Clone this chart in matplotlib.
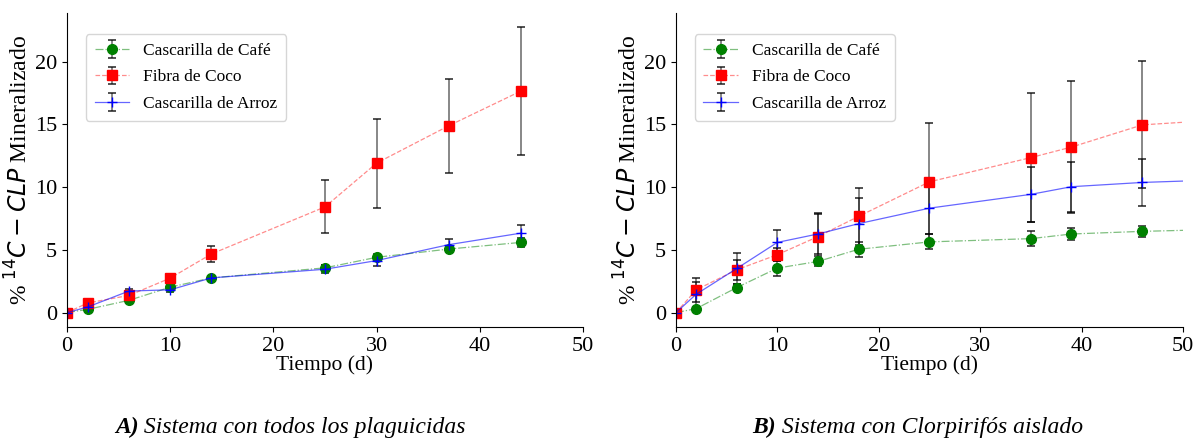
import matplotlib
matplotlib.use("Agg")
import matplotlib.pyplot as plt

# =========================
# DATA
# =========================
# Panel A: system with all pesticides
tiempo_a = [0, 2, 6, 10, 14, 25, 30, 37, 44]
cafe_a = [0, 0.26, 0.98, 2.03, 2.77, 3.57, 4.41, 5.07, 5.60]
cafe_a_err = [0, 0.1, 0.15, 0.2, 0.15, 0.25, 0.3, 0.2, 0.35]
coco_a = [0, 0.77, 1.37, 2.75, 4.68, 8.43, 11.92, 14.90, 17.67]
coco_a_err = [0, 0.1, 0.2, 0.2, 0.66, 2.12, 3.55, 3.75, 5.10]
arroz_a = [0, 0.45, 1.72, 1.82, 2.77, 3.46, 4.15, 5.42, 6.34]
arroz_a_err = [0, 0.1, 0.2, 0.2, 0.1, 0.3, 0.45, 0.45, 0.63]

# Panel B: system with isolated chlorpyrifos (last point lies past the axis limit)
tiempo_b = [0, 2, 6, 10, 14, 18, 25, 35, 39, 46, 53]
cafe_b = [0, 0.32, 2.0, 3.55, 4.08, 5.05, 5.64, 5.90, 6.27, 6.48, 6.62]
cafe_b_err = [0, 0.15, 0.3, 0.6, 0.4, 0.6, 0.6, 0.6, 0.5, 0.45, 0.45]
coco_b = [0, 1.82, 3.42, 4.62, 6.06, 7.67, 10.43, 12.36, 13.20, 14.97, 15.33]
coco_b_err = [0, 0.98, 0.8, 0.5, 1.9, 2.3, 4.65, 5.15, 5.25, 5.06, 5.06]
arroz_b = [0, 1.47, 3.52, 5.60, 6.27, 7.09, 8.33, 9.43, 10.04, 10.38, 10.57]
arroz_b_err = [0, 1.0, 1.2, 1.0, 1.6, 2.05, 2.1, 2.2, 1.98, 1.9, 1.9]

CAPTIONS = [("A)", " Sistema con todos los plaguicidas"),
            ("B)", " Sistema con Clorpirifós aislado")]

# =========================
# STYLE
# =========================
plt.rcParams["font.family"] = ["Liberation Serif", "DejaVu Serif"]
plt.rcParams["mathtext.fontset"] = "dejavusans"

ERR_KW = dict(ecolor="black", elinewidth=1.2, capsize=3, capthick=1.2)


def draw_panel(ax, t, cafe, cafe_err, coco, coco_err, arroz, arroz_err):
    c = ax.errorbar(t, cafe, yerr=cafe_err, fmt="o", color="green", ms=7,
                    ls="-.", lw=0.9, label="Cascarilla de Café", **ERR_KW)
    r = ax.errorbar(t, coco, yerr=coco_err, fmt="s", color="red", ms=7,
                    ls="--", lw=0.9, label="Fibra de Coco", **ERR_KW)
    b = ax.errorbar(t, arroz, yerr=arroz_err, fmt="+", color="blue", ms=7,
                    ls="-", lw=0.9, label="Cascarilla de Arroz", **ERR_KW)
    for cont in (c, r, b):
        for bar in cont.lines[2]:
            bar.set_alpha(0.55)
        for cap in cont.lines[1]:
            cap.set_alpha(0.8)
    # fade connecting lines but keep markers solid
    for cont, col in ((c, (0, 0.5, 0, 0.5)), (r, (1, 0, 0, 0.45)), (b, (0, 0, 1, 0.6))):
        cont.lines[0].set_color(col)
        cont.lines[0].set_markerfacecolor(col[:3])
        cont.lines[0].set_markeredgecolor(col[:3])

    ax.set_xlim(0, 50)
    ax.set_ylim(-1.14, 23.9)
    ax.set_xticks([0, 10, 20, 30, 40, 50])
    ax.set_yticks([0, 5, 10, 15, 20])
    ax.spines["top"].set_visible(False)
    ax.spines["right"].set_visible(False)
    ax.tick_params(labelsize=16)
    ax.set_xlabel("Tiempo (d)", fontsize=15.5, labelpad=0)
    ax.set_ylabel(r"% $^{14}C - CLP$ Mineralizado", fontsize=17, labelpad=2)
    ax.legend(loc="upper left", bbox_to_anchor=(0.02, 0.96), fontsize=12.5,
              handlelength=2.0, handletextpad=0.8, borderpad=0.5,
              labelspacing=0.6)


# =========================
# PLOT
# =========================
fig = plt.figure(figsize=(12.03, 4.43), dpi=100)
ax_a = fig.add_axes([0.0557, 0.262, 0.4289, 0.709])
ax_b = fig.add_axes([0.5619, 0.262, 0.4215, 0.709])

draw_panel(ax_a, tiempo_a, cafe_a, cafe_a_err, coco_a, coco_a_err, arroz_a, arroz_a_err)
draw_panel(ax_b, tiempo_b, cafe_b, cafe_b_err, coco_b, coco_b_err, arroz_b, arroz_b_err)

for x, (tag, body) in zip([0.115, 0.645], CAPTIONS):
    fig.text(x, 0.034, tag, ha="right", va="center", fontsize=17,
             style="italic", weight="bold")
    fig.text(x, 0.034, body, ha="left", va="center", fontsize=17,
             style="italic")

fig.savefig("out.png", dpi=100)
